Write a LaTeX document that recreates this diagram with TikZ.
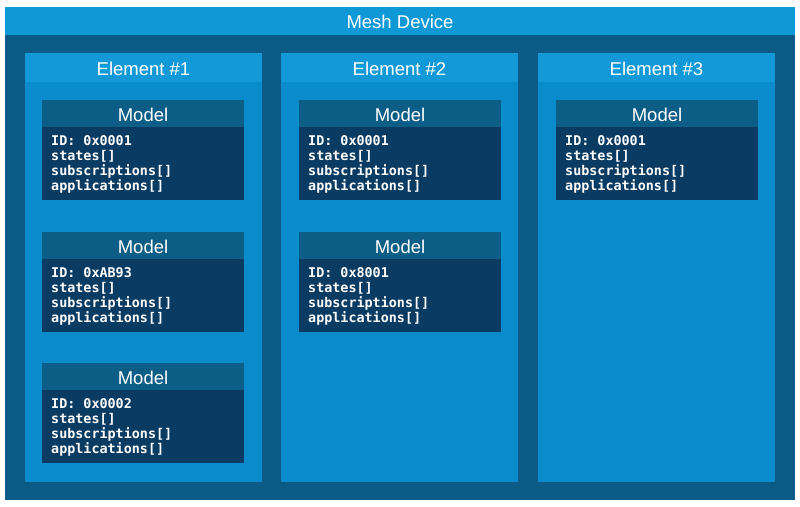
\documentclass[tikz,border=0pt]{standalone}
\usepackage{fontspec}
\setmainfont{Liberation Sans}
\newfontfamily\monof{DejaVu Sans Mono}
\definecolor{frame}{HTML}{0B5B86}
\definecolor{banner}{HTML}{0E98D6}
\definecolor{colhead}{HTML}{1499D8}
\definecolor{colbody}{HTML}{0A8BCB}
\definecolor{modhead}{HTML}{0C5E86}
\definecolor{modbody}{HTML}{0A3B62}
\tikzset{
  box/.style={inner sep=0pt, outer sep=0pt, anchor=north west},
  title/.style={text=white, font=\fontsize{18.5}{20}\selectfont},
  code/.style={text=white, font=\monof\bfseries\fontsize{13.4}{15}\selectfont, align=left, anchor=north west, inner sep=0pt},
}
\newcommand{\elem}[3]{% name, x, label
  \fill[colbody] (#2,53) rectangle ++(237,429);
  \fill[colhead] (#2,53) rectangle ++(237,29);
  \node[title] (#1) at (#2+118.5,68.5) {#3};
}
\newcommand{\model}[4]{% name, x, y, id
  \fill[modbody] (#2,#3) rectangle ++(202,100);
  \fill[modhead] (#2,#3) rectangle ++(202,27);
  \node[title] (#1t) at (#2+101,#3+14.5) {Model};
  \node[code] (#1c) at (#2+9,#3+35) {ID: #4\\states[]\\subscriptions[]\\applications[]};
}
\begin{document}
\begin{tikzpicture}[x=1pt,y=-1pt]
\fill[white] (0,0) rectangle (800,506);
\useasboundingbox (0,0) rectangle (800,506);
\fill[frame] (5,7) rectangle (795,500);
\fill[banner] (5,7) rectangle (795,35);
\node[title] (mesh) at (400,21.5) {Mesh Device};
\elem{e1}{25}{Element \#1}
\elem{e2}{281}{Element \#2}
\elem{e3}{538}{Element \#3}
\model{m11}{42}{100}{0x0001}
\model{m12}{42}{232}{0xAB93}
\model{m13}{42}{363}{0x0002}
\model{m21}{299}{100}{0x0001}
\model{m22}{299}{232}{0x8001}
\model{m31}{556}{100}{0x0001}
\end{tikzpicture}
\end{document}
